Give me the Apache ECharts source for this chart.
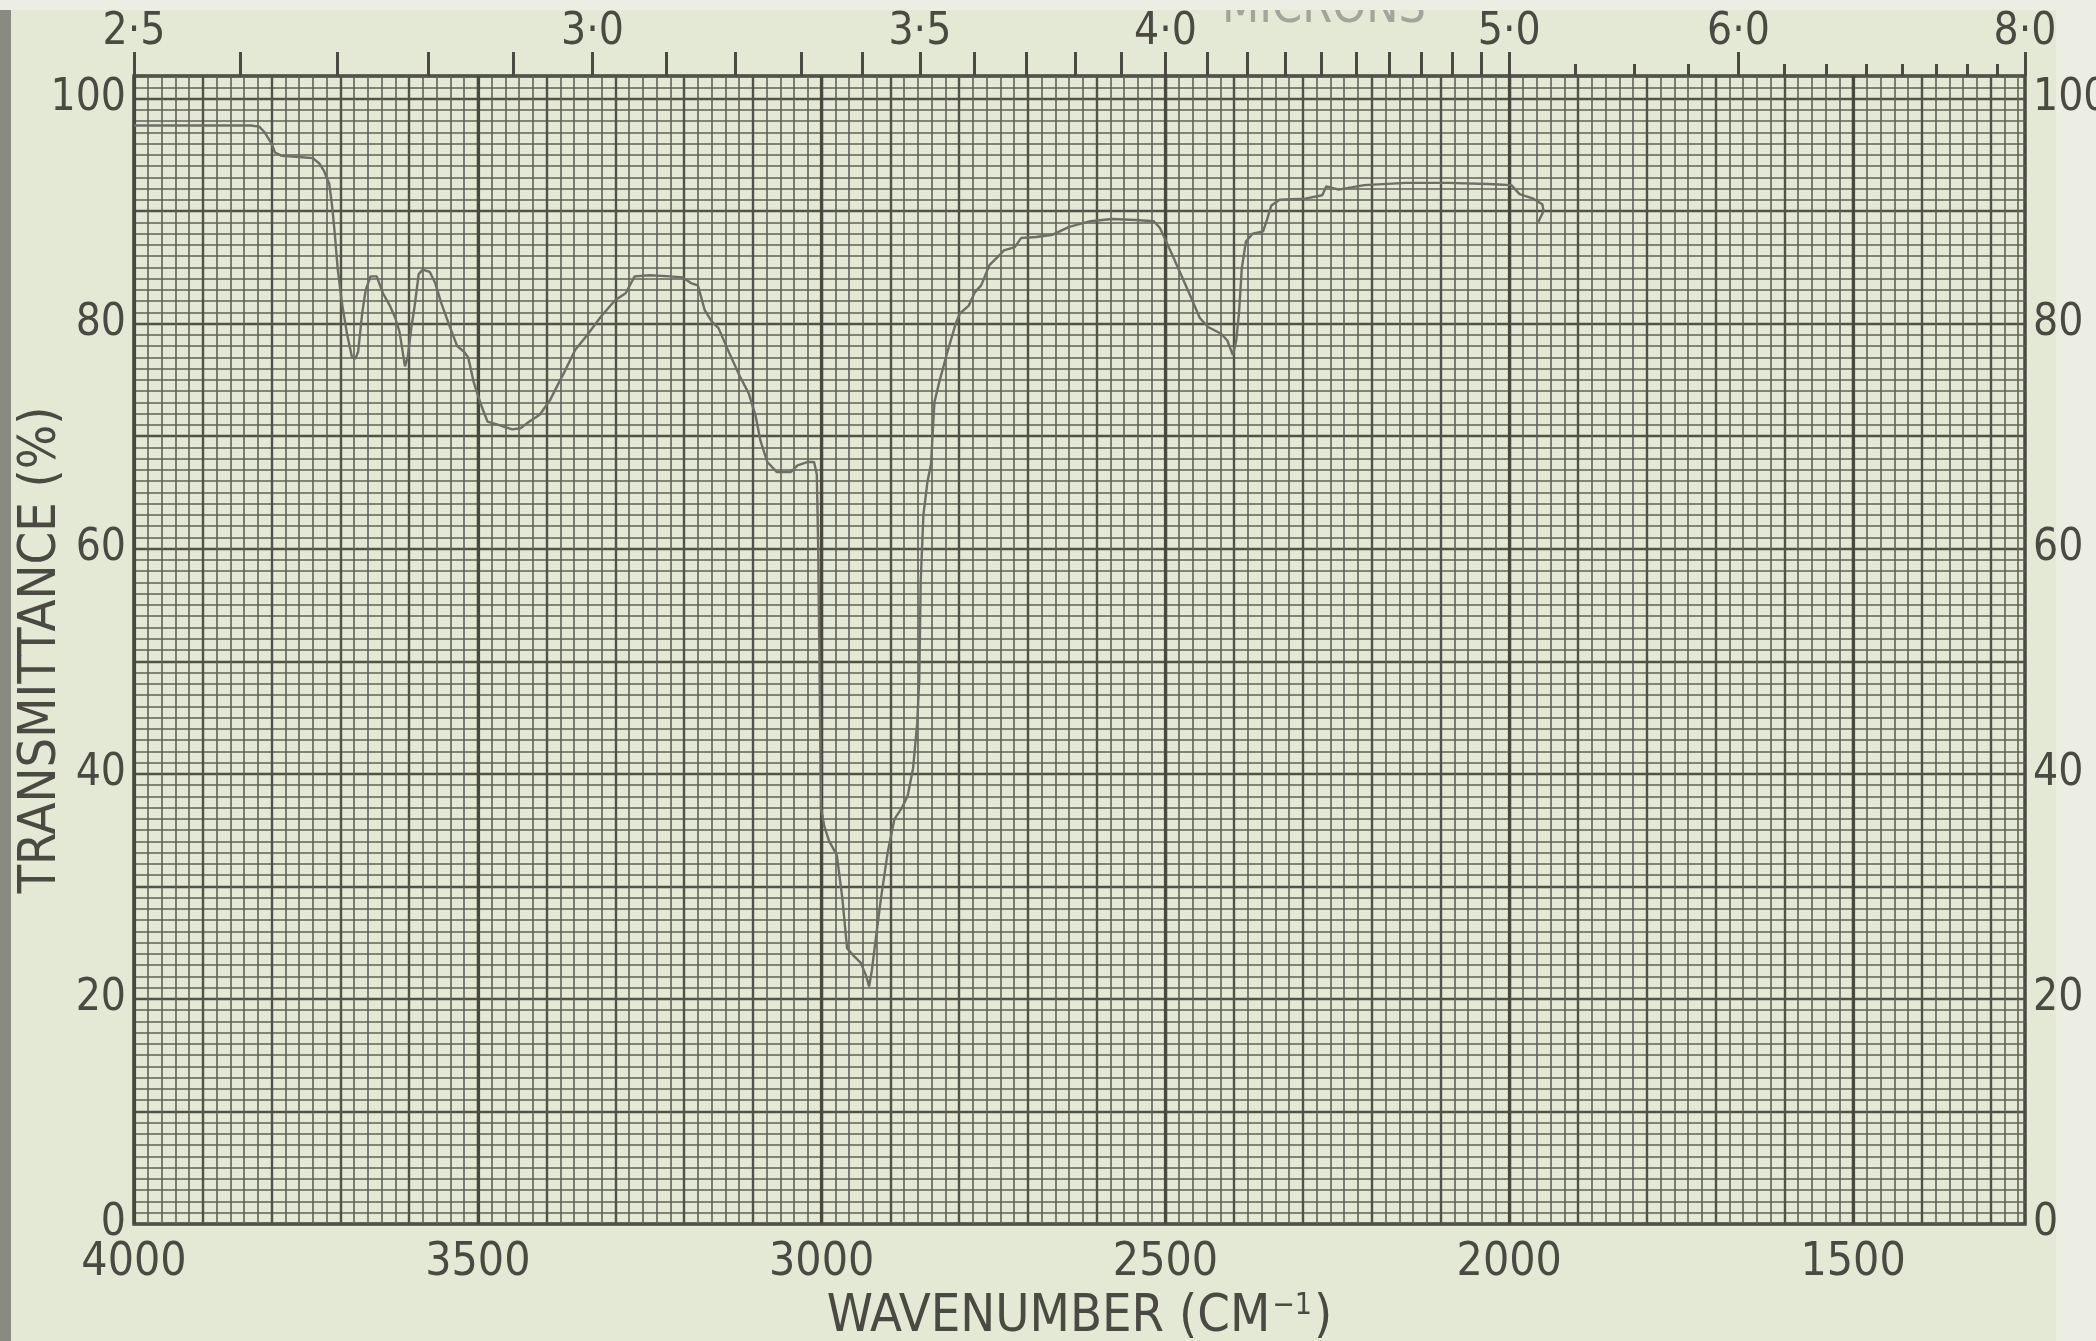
<!DOCTYPE html>
<html>
<head>
<meta charset="utf-8">
<script src="https://cdn.jsdelivr.net/npm/echarts@6/dist/echarts.min.js"></script>
<style>
html,body{margin:0;padding:0;background:#e3e9d5;}
#chart{width:2096px;height:1341px;}
</style>
</head>
<body>
<div id="chart"></div>
<script>
// ---- data ----
const wavenumbers = [
  4000, 3900, 3830, 3818, 3810, 3800, 3795, 3785, 3760, 3740, 3730, 3724, 3716, 3712, 3708, 3704, 3698, 3690, 3683, 3678,
  3674, 3668, 3663, 3656, 3647, 3638, 3628, 3620, 3614, 3610, 3606, 3602, 3597, 3592, 3586, 3580, 3570, 3562, 3553, 3540,
  3530, 3520, 3514, 3506, 3496, 3486, 3470, 3450, 3438, 3425, 3410, 3395, 3375, 3358, 3342, 3320, 3300, 3285, 3272, 3250,
  3220, 3202, 3190, 3180, 3170, 3160, 3150, 3133, 3118, 3106, 3096, 3089, 3079, 3065, 3045, 3035, 3021, 3011, 3007, 3005,
  3003, 3001, 2996, 2989, 2978, 2970, 2963, 2953, 2943, 2935, 2931, 2927, 2922, 2914, 2904, 2894, 2884, 2875, 2867, 2861,
  2858, 2856, 2852, 2846, 2841, 2836, 2829, 2817, 2805, 2799, 2786, 2777, 2768, 2756, 2741, 2735, 2719, 2710, 2688, 2664,
  2640, 2609, 2578, 2542, 2517, 2508, 2499, 2490, 2477, 2462, 2450, 2438, 2419, 2410, 2402, 2397, 2393, 2389, 2383, 2373,
  2358, 2352, 2346, 2334, 2297, 2272, 2266, 2248, 2211, 2150, 2089, 2030, 1997, 1985, 1965, 1952, 1950, 1958
];
const transmittance = [
  97.6, 97.6, 97.6, 97.5, 97.0, 96.0, 95.2, 94.9, 94.8, 94.7, 94.2, 93.6, 92.4, 90.5, 88.0, 85.0, 82.0, 79.0, 77.0, 76.9,
  77.5, 81.0, 83.0, 84.2, 84.2, 82.7, 81.6, 80.5, 79.3, 77.8, 76.2, 77.0, 79.5, 81.5, 84.4, 84.8, 84.6, 83.6, 81.8, 79.6,
  78.0, 77.5, 77.0, 74.8, 72.9, 71.3, 71.0, 70.6, 70.7, 71.3, 71.9, 73.2, 75.6, 77.7, 78.9, 80.7, 82.1, 82.7, 84.2, 84.3,
  84.2, 84.1, 83.6, 83.4, 81.2, 80.2, 79.6, 77.2, 75.2, 73.8, 71.8, 69.6, 67.7, 66.8, 66.8, 67.4, 67.7, 67.7, 66.6, 60.0,
  49.0, 37.0, 35.3, 34.0, 32.8, 29.0, 24.5, 23.8, 23.2, 22.0, 21.1, 22.5, 25.0, 28.8, 33.0, 36.0, 36.9, 38.0, 40.5, 44.5,
  48.5, 57.0, 63.0, 66.0, 67.5, 73.0, 74.8, 77.5, 80.0, 80.9, 81.6, 82.8, 83.4, 85.2, 86.1, 86.5, 86.8, 87.6, 87.7, 87.9,
  88.6, 89.1, 89.3, 89.2, 89.1, 88.5, 87.3, 86.1, 84.3, 82.2, 80.5, 79.7, 79.1, 78.5, 77.2, 78.5, 81.0, 84.9, 87.3, 88.0,
  88.2, 89.3, 90.5, 91.0, 91.1, 91.4, 92.2, 91.9, 92.3, 92.5, 92.5, 92.4, 92.3, 91.5, 91.1, 90.6, 90.0, 89.0
];

// tick labels
const bottomLabels = [4000, 3500, 3000, 2500, 2000, 1500];
const percentLabels = [0, 20, 40, 60, 80, 100];
const micronLabels = [2.5, 3.0, 3.5, 4.0, 5.0, 6.0, 8.0];
const micronMajorTicks = [2.5, 2.6, 2.7, 2.8, 2.9, 3.0, 3.1, 3.2, 3.3, 3.4, 3.5, 3.6, 3.7, 3.8, 3.9, 4.0,
  4.1, 4.2, 4.3, 4.4, 4.5, 4.6, 4.7, 4.8, 4.9, 5.0, 6.0, 8.0];
const micronMinorTicks = [5.25, 5.5, 5.75, 6.25, 6.5, 6.75, 7.0, 7.25, 7.5, 7.75];

const WN_MIN = 1250, WN_MAX = 4000, T_MIN = 0, T_MAX = 102;

const FONT = "'DejaVu Sans Condensed','DejaVu Sans',sans-serif";
const INK = '#4a4a42';
const MINOR = '#616156';
const MAJOR = '#525248';
const HEAVY = '#48483f';
const toWn = m => 10000 / m;
const micronFmt = v => (10000 / v).toFixed(1).replace('.', '\u00b7');
const plainFmt = v => String(Math.round(v));

const GRID = {left: 134, right: 71, top: 76, bottom: 117, outerBoundsMode: 'none', containLabel: false};

function hiddenY(gridIndex) {
  return {type: 'value', gridIndex: gridIndex, min: T_MIN, max: T_MAX, show: false};
}
function gridXAxis(gridIndex, interval, color, width) {
  return {
    type: 'value', gridIndex: gridIndex, position: 'bottom', min: WN_MIN, max: WN_MAX, inverse: true,
    interval: interval,
    axisLine: {show: false, onZero: false}, axisTick: {show: false}, axisLabel: {show: false},
    splitLine: {show: true, lineStyle: {color: ['rgba(0,0,0,0)', color], width: width}}
  };
}

const chart = echarts.init(document.getElementById('chart'), null, {renderer: 'canvas'});
chart.setOption({
  animation: false,
  backgroundColor: '#e3e9d5',
  graphic: [
    {type: 'rect', left: 0, top: 0, shape: {width: 11, height: 1341}, style: {fill: '#8a8b80'}, silent: true, z: -10},
    {type: 'rect', right: 0, top: 0, shape: {width: 40, height: 1341}, style: {fill: '#eceee3'}, silent: true, z: -10},
    {type: 'text', left: 1222, top: -14, style: {text: 'MICRONS', font: "48px " + FONT, fill: '#a2a59a'}, silent: true, z: 1},
    {type: 'rect', left: 0, top: 0, shape: {width: 2096, height: 10}, style: {fill: '#eceee4'}, silent: true, z: 2}
  ],
  grid: [
    Object.assign({show: true, borderColor: '#4a4a41', borderWidth: 3.5, backgroundColor: 'transparent'}, GRID),
    Object.assign({show: false}, GRID),
    Object.assign({show: false}, GRID)
  ],
  xAxis: [
    {
      type: 'value', gridIndex: 0, position: 'bottom', min: WN_MIN, max: WN_MAX, inverse: true,
      interval: 10,
      axisLine: {show: false, onZero: false}, axisTick: {show: false},
      axisLabel: {customValues: bottomLabels, formatter: plainFmt, fontSize: 46, fontFamily: FONT, color: INK, margin: 16},
      splitLine: {show: true, lineStyle: {color: ['rgba(0,0,0,0)', MINOR], width: 1.6}},
      name: 'WAVENUMBER (CM{sup|\u22121})',
      nameLocation: 'middle', nameGap: 67, nameMoveOverlap: false,
      nameTextStyle: {
        fontSize: 52, fontFamily: FONT, color: INK,
        rich: {sup: {fontSize: 30, fontFamily: FONT, color: INK, verticalAlign: 'top', padding: [0, 2, 0, 2]}}
      }
    },
    {
      type: 'value', gridIndex: 0, position: 'top', min: WN_MIN, max: WN_MAX, inverse: true,
      axisLine: {show: false, onZero: false},
      axisTick: {show: true, length: 24, customValues: micronMajorTicks.map(toWn), lineStyle: {color: INK, width: 3}},
      axisLabel: {customValues: micronLabels.map(toWn), formatter: micronFmt, fontSize: 44, fontFamily: FONT, color: INK, margin: 21},
      splitLine: {show: false}
    },
    {
      type: 'value', gridIndex: 1, position: 'top', min: WN_MIN, max: WN_MAX, inverse: true,
      axisLine: {show: false, onZero: false},
      axisTick: {show: true, length: 12, customValues: micronMinorTicks.map(toWn), lineStyle: {color: INK, width: 3}},
      axisLabel: {show: false},
      splitLine: {show: false}
    },
    gridXAxis(1, 50, MAJOR, 2.4),
    gridXAxis(2, 250, HEAVY, 3.2)
  ],
  yAxis: [
    {
      type: 'value', gridIndex: 0, position: 'left', min: T_MIN, max: T_MAX, interval: 1,
      axisLine: {show: false, onZero: false}, axisTick: {show: false},
      axisLabel: {customValues: percentLabels, fontSize: 44, fontFamily: FONT, color: INK, margin: 8},
      splitLine: {show: true, lineStyle: {color: MINOR, width: 1.6}},
      name: 'TRANSMITTANCE (%)', nameLocation: 'middle', nameRotate: 90, nameGap: 67, nameMoveOverlap: false,
      nameTextStyle: {fontSize: 52, fontFamily: FONT, color: INK}
    },
    {
      type: 'value', gridIndex: 0, position: 'right', min: T_MIN, max: T_MAX, interval: 10,
      axisLine: {show: false, onZero: false}, axisTick: {show: false},
      axisLabel: {customValues: percentLabels, fontSize: 44, fontFamily: FONT, color: INK, margin: 8},
      splitLine: {show: true, lineStyle: {color: MAJOR, width: 2.4}}
    },
    hiddenY(1),
    hiddenY(2)
  ],
  series: [
    {
      type: 'line', xAxisIndex: 0, yAxisIndex: 0,
      data: wavenumbers.map((w, i) => [w, transmittance[i]]),
      showSymbol: false, symbol: 'none', smooth: false,
      lineStyle: {color: '#6e6e66', width: 2.4},
      z: 10
    }
  ]
});
</script>
</body>
</html>
